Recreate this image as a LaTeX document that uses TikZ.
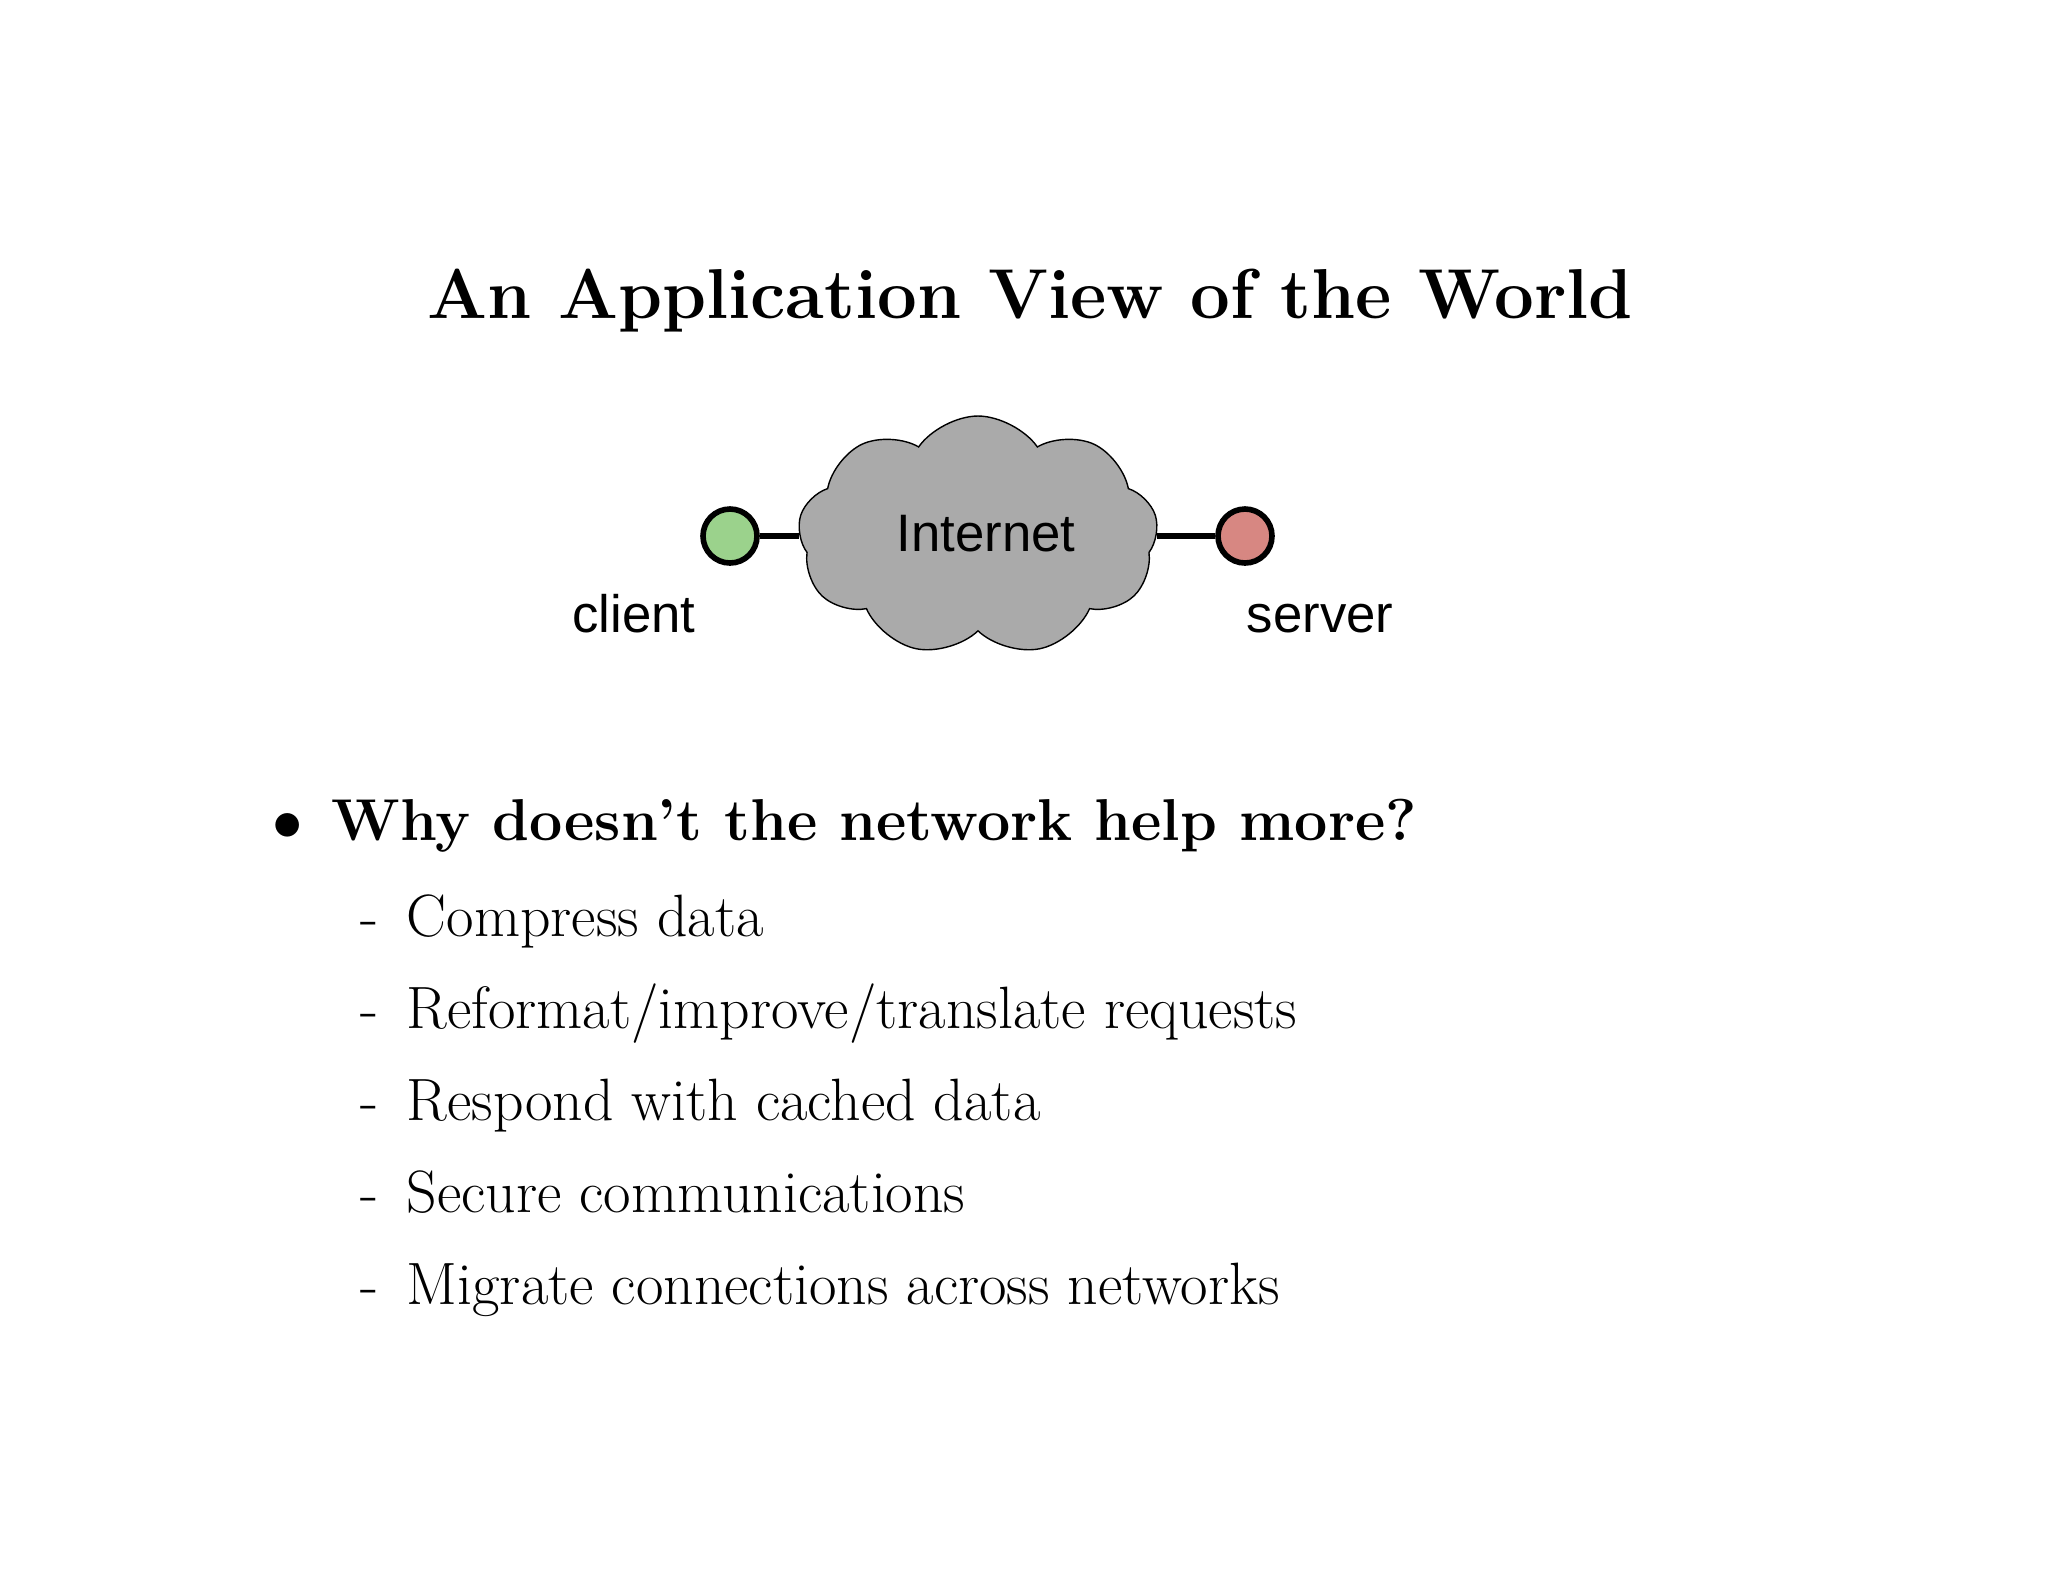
\documentclass[tikz,border=0pt]{standalone}
\usepackage{fontspec}
\newfontfamily\helv{Liberation Sans}
\usetikzlibrary{shapes.symbols}
\definecolor{cgreen}{RGB}{155,210,140}
\definecolor{cred}{RGB}{215,135,130}
\definecolor{cgray}{RGB}{170,170,170}
\tikzset{
  item/.style={anchor=base west,inner sep=0pt,font=\fontsize{17}{20}\selectfont},
  dashmark/.style={anchor=base west,inner sep=0pt,font=\fontsize{17}{20}\selectfont},
  host/.style={circle,draw,line width=1.6pt,minimum size=5.4mm,inner sep=0pt},
  lbl/.style={font=\helv\fontsize{15}{18}\selectfont,inner sep=0pt}
}
\begin{document}
\begin{tikzpicture}[x=0.1mm,y=-0.1mm]
\useasboundingbox (0,0) rectangle (2048,1582);
\fill[white] (0,0) rectangle (2048,1582);
\node[font=\bfseries\fontsize{20.1}{24}\selectfont,anchor=base] (title) at (1030,318) {An Application View of the World};
\node[cloud,cloud puffs=9,cloud puff arc=110,aspect=1.5,draw,fill=cgray,minimum width=36mm,minimum height=24mm,inner sep=0pt] (net) at (978,536) {};
\node[lbl] (netl) at (986,534) {Internet};
\node[host,fill=cgreen] (client) at (730,536) {};
\node[host,fill=cred] (server) at (1245,536) {};
\draw[line width=1.6pt] (client) -- (net.west);
\draw[line width=1.6pt] (server) -- (net.east);
\node[lbl,anchor=base] (cl) at (634,632) {client};
\node[lbl,anchor=base] (sl) at (1320,632) {server};
\node[anchor=base,inner sep=0pt,font=\fontsize{18}{22}\selectfont] (bul) at (288,840) {$\bullet$};
\node[anchor=base west,inner sep=0pt,font=\bfseries\fontsize{16.8}{20}\selectfont] (b1) at (331,840) {Why doesn’t the network help more?};
\foreach \y/\t [count=\i] in {936/{Compress data},1028/{Reformat/improve/translate requests},1120/{Respond with cached data},1212/{Secure communications},1304/{Migrate connections across networks}}{
  \node[dashmark] (d\i) at (360,\y) {-};
  \node[item] (s\i) at (406,\y) {\t};
}
\end{tikzpicture}
\end{document}
